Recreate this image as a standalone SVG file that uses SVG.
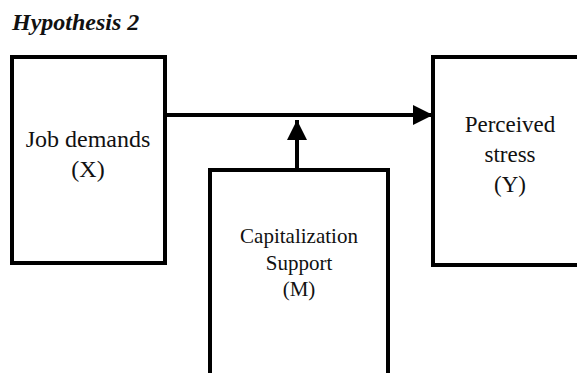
<svg xmlns="http://www.w3.org/2000/svg" width="577" height="373" viewBox="0 0 577 373">
  <style>
    .box { fill: #ffffff; stroke: #000000; stroke-width: 4; }
    .lbl { font-family: 'Liberation Serif', 'Times New Roman', 'DejaVu Serif', serif; fill: #111111; text-anchor: middle; }
    .title { font-family: 'Liberation Serif', 'Times New Roman', 'DejaVu Serif', serif; font-weight: bold; font-style: italic; font-size: 24px; fill: #111111; }
    .edge { stroke: #000000; stroke-width: 4; fill: none; }
  </style>
  <defs>
    <marker id="arrowhead" viewBox="0 0 10 10" refX="10" refY="5" markerUnits="userSpaceOnUse" markerWidth="28" markerHeight="20" orient="auto">
      <path d="M0,0 L10,5 L0,10 Z" fill="#000000"/>
    </marker>
  </defs>
  <rect width="577" height="373" fill="#ffffff"/>

  <text class="title" x="12" y="30" font-family="Liberation Serif, serif">Hypothesis 2</text>

  <g id="connectors">
    <line class="edge" x1="165" y1="115" x2="433" y2="115" marker-end="url(#arrowhead)"/>
    <line class="edge" x1="297" y1="170" x2="297" y2="120" marker-end="url(#arrowhead)"/>
  </g>

  <g id="node-x">
    <rect class="box" x="12" y="57" width="153" height="206"/>
    <text class="lbl" x="88" y="147" font-size="24">Job demands</text>
    <text class="lbl" x="88" y="177" font-size="24">(X)</text>
  </g>

  <g id="node-y">
    <rect class="box" x="433" y="57" width="160" height="208"/>
    <text class="lbl" x="510" y="132" font-size="23">Perceived</text>
    <text class="lbl" x="510" y="162" font-size="23">stress</text>
    <text class="lbl" x="510" y="192" font-size="23">(Y)</text>
  </g>

  <g id="node-m">
    <rect class="box" x="210" y="170" width="178" height="220"/>
    <text class="lbl" x="299" y="243" font-size="21">Capitalization</text>
    <text class="lbl" x="299" y="270" font-size="21">Support</text>
    <text class="lbl" x="299" y="296" font-size="21">(M)</text>
  </g>
</svg>
